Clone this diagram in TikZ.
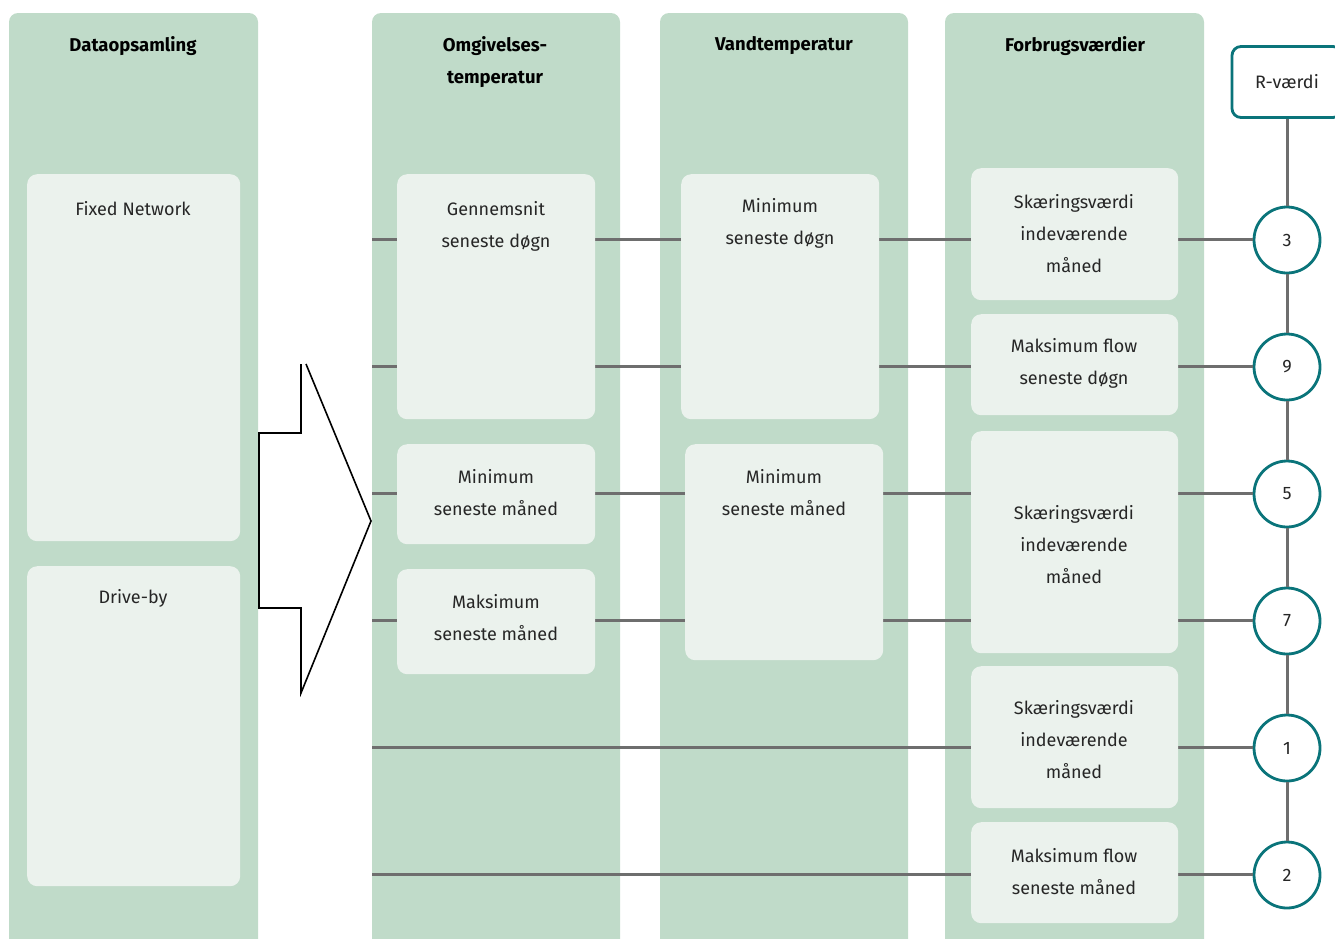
\documentclass[tikz,border=0pt]{standalone}
\usepackage{fontspec}
\setmainfont{Fira Sans}
\definecolor{panel}{HTML}{C0DBC9}
\definecolor{boxc}{HTML}{EBF2ED}
\definecolor{linec}{HTML}{6E6E6E}
\definecolor{teal}{HTML}{0A747A}
\definecolor{txtc}{HTML}{262626}
\tikzset{
  panelbox/.style={fill=panel, rounded corners=9pt},
  inner/.style={fill=boxc, rounded corners=10pt, inner sep=0pt, anchor=north west},
  txt/.style={font=\fontsize{18}{32}\selectfont, text=txtc, align=center, inner sep=0pt},
  head/.style={font=\fontsize{18.5}{32}\selectfont\bfseries, text=black, align=center, inner sep=0pt},
  conn/.style={draw=linec, line width=3pt},
  circ/.style={circle, draw=teal, line width=2.8pt, fill=white, minimum size=66pt, inner sep=0pt, font=\fontsize{18}{20}\selectfont, text=txtc},
  rbox/.style={rectangle, rounded corners=9pt, draw=teal, line width=2.8pt, fill=white, minimum width=110pt, minimum height=71pt, inner sep=0pt, font=\fontsize{18}{20}\selectfont, text=txtc},
  arrowshape/.style={draw=black, line width=1.6pt, line join=miter}
}
\begin{document}
\begin{tikzpicture}[x=1pt,y=-1pt]
\useasboundingbox (0,0) rectangle (1335,938);
\clip (0,0) rectangle (1335,938);
% panels
\fill[panelbox] (9,13) rectangle (258,970);
\fill[panelbox] (372,13) rectangle (620,970);
\fill[panelbox] (660,13) rectangle (908,970);
\fill[panelbox] (945,13) rectangle (1204,970);
% headers
\node[head] (h1) at (133,46) {Dataopsamling};
\node[head] (h2) at (495,62) {Omgivelses-\\temperatur};
\node[head] (h3) at (784,46) {Vandtemperatur};
\node[head] (h4) at (1075,46) {Forbrugsværdier};
% R-value box and circles
\node[rbox] (rv) at (1287,82) {R-værdi};
\node[circ] (c3) at (1287,240) {3};
\node[circ] (c9) at (1287,367) {9};
\node[circ] (c5) at (1287,494) {5};
\node[circ] (c7) at (1287,621) {7};
\node[circ] (c1) at (1287,748) {1};
\node[circ] (c2) at (1287,875) {2};
\draw[conn] (rv.south) -- (c3.north);
\draw[conn] (c3.south) -- (c9.north);
\draw[conn] (c9.south) -- (c5.north);
\draw[conn] (c5.south) -- (c7.north);
\draw[conn] (c7.south) -- (c1.north);
\draw[conn] (c1.south) -- (c2.north);
% horizontal connectors
\coordinate (s3) at (372,239);
\coordinate (s9) at (372,366);
\coordinate (s5) at (372,493);
\coordinate (s7) at (372,620);
\coordinate (s1) at (372,747);
\coordinate (s2) at (372,874);
\draw[conn] (s3) -- (c3.west |- s3);
\draw[conn] (s9) -- (c9.west |- s9);
\draw[conn] (s5) -- (c5.west |- s5);
\draw[conn] (s7) -- (c7.west |- s7);
\draw[conn] (s1) -- (c1.west |- s1);
\draw[conn] (s2) -- (c2.west |- s2);
% column 1 boxes
\node[inner, minimum width=213pt, minimum height=367pt] (fn) at (27,174) {};
\node[txt] (fnt) at (133,209) {Fixed Network};
\node[inner, minimum width=213pt, minimum height=320pt] (db) at (27,566) {};
\node[txt] (dbt) at (133,598) {Drive-by};
% column 2 boxes
\node[inner, minimum width=198pt, minimum height=245pt] (b21) at (397,174) {};
\node[txt] (b21t) at (496,226) {Gennemsnit\\seneste døgn};
\node[inner, minimum width=198pt, minimum height=100pt] (b22) at (397,444) {};
\node[txt] (b22t) at (496,493) {Minimum\\seneste måned};
\node[inner, minimum width=198pt, minimum height=105pt] (b23) at (397,569) {};
\node[txt] (b23t) at (496,618) {Maksimum\\seneste måned};
% column 3 boxes
\node[inner, minimum width=198pt, minimum height=245pt] (b31) at (681,174) {};
\node[txt] (b31t) at (780,223) {Minimum\\seneste døgn};
\node[inner, minimum width=198pt, minimum height=216pt] (b32) at (685,444) {};
\node[txt] (b32t) at (784,493) {Minimum\\seneste måned};
% column 4 boxes
\node[inner, minimum width=207pt, minimum height=132pt] (b41) at (971,168) {};
\node[txt] (b41t) at (1074,234) {Skæringsværdi\\indeværende\\måned};
\node[inner, minimum width=207pt, minimum height=101pt] (b42) at (971,314) {};
\node[txt] (b42t) at (1074,363) {Maksimum flow\\seneste døgn};
\node[inner, minimum width=207pt, minimum height=222pt] (b43) at (971,431) {};
\node[txt] (b43t) at (1074,545) {Skæringsværdi\\indeværende\\måned};
\node[inner, minimum width=207pt, minimum height=142pt] (b44) at (971,666) {};
\node[txt] (b44t) at (1074,740) {Skæringsværdi\\indeværende\\måned};
\node[inner, minimum width=207pt, minimum height=101pt] (b45) at (971,822) {};
\node[txt] (b45t) at (1074,872) {Maksimum flow\\seneste måned};
% big arrow
\draw[arrowshape] (306,364) -- (371,521) -- (301,693) -- (301,608) -- (259,608) -- (259,433) -- (301,433) -- (301,364);
\end{tikzpicture}
\end{document}
